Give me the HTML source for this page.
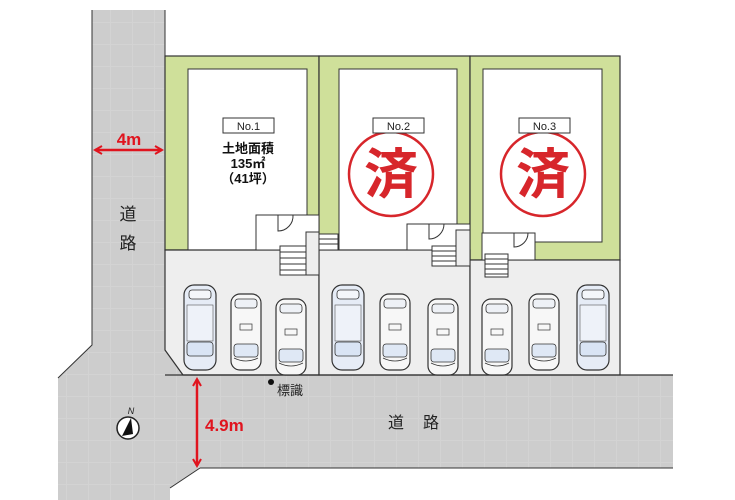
<!DOCTYPE html>
<html><head><meta charset="utf-8"><style>
html,body{margin:0;padding:0;background:#fff;}
svg{display:block;}
text{font-family:"Liberation Sans","Noto Sans CJK JP",sans-serif;}
</style></head><body>
<svg width="735" height="500" viewBox="0 0 735 500" xmlns="http://www.w3.org/2000/svg">
<defs>
<pattern id="g" width="22" height="22" patternUnits="userSpaceOnUse">
<rect width="22" height="22" fill="#cdcdcd"/>
<path d="M0 0.5H22M0.5 0V22" stroke="#d3d3d3" stroke-width="1"/>
</pattern>
<marker id="ah" viewBox="0 0 10 10" refX="8" refY="5" markerWidth="4" markerHeight="4" orient="auto-start-reverse">
<path d="M1 1L8 5L1 9" fill="none" stroke="#e0141e" stroke-width="2"/>
</marker>
<g id="car">
<rect x="0" y="0" width="30" height="76" rx="9" fill="#f7f7f7" stroke="#333" stroke-width="1.2"/>
<rect x="4" y="5" width="22" height="9" rx="3" fill="#eef1f6" stroke="#333" stroke-width="0.8"/>
<rect x="9" y="30" width="12" height="6" fill="none" stroke="#333" stroke-width="0.7"/>
<rect x="3" y="50" width="24" height="13" rx="3" fill="#dfe8f5" stroke="#333" stroke-width="0.8"/>
<path d="M3 64Q15 70 27 64" fill="none" stroke="#333" stroke-width="0.8"/>
</g>
<g id="carb">
<rect x="0" y="0" width="32" height="85" rx="10" fill="#e6ecf6" stroke="#333" stroke-width="1.2"/>
<rect x="5" y="5" width="22" height="9" rx="3" fill="#f4f6fa" stroke="#333" stroke-width="0.8"/>
<rect x="3" y="20" width="26" height="36" fill="#eef2f9" stroke="#555" stroke-width="0.6"/>
<rect x="3" y="57" width="26" height="14" rx="3" fill="#d9e4f4" stroke="#333" stroke-width="0.8"/>
</g>
</defs>

<polygon points="92,10 165,10 165,345 190,375 673,375 673,468 200,468 170,488 170,500 58,500 58,378 92,345" fill="url(#g)"/>
<polyline points="92,10 92,345 58,378" fill="none" stroke="#333" stroke-width="1"/>
<polyline points="165,10 165,345" fill="none" stroke="#333" stroke-width="1"/>
<polyline points="200,468 673,468" fill="none" stroke="#333" stroke-width="1"/>
<polyline points="200,468 170,488" fill="none" stroke="#333" stroke-width="1"/>

<rect x="165" y="56" width="154" height="194" fill="#cfe09a" stroke="#333" stroke-width="1.2"/>
<rect x="319" y="56" width="151" height="194" fill="#cfe09a" stroke="#333" stroke-width="1.2"/>
<rect x="470" y="56" width="150" height="204" fill="#cfe09a" stroke="#333" stroke-width="1.2"/>
<rect x="188" y="69" width="119" height="181" fill="#fff" stroke="#333" stroke-width="1"/>
<rect x="339" y="69" width="118" height="181" fill="#fff" stroke="#333" stroke-width="1"/>
<rect x="483" y="69" width="119" height="173" fill="#fff" stroke="#333" stroke-width="1"/>

<polygon points="165,250 319,250 319,375 183,375 165,350" fill="#eeeeee" stroke="#333" stroke-width="1.2"/>
<rect x="319" y="250" width="151" height="125" fill="#eeeeee" stroke="#333" stroke-width="1.2"/>
<rect x="470" y="260" width="150" height="115" fill="#eeeeee" stroke="#333" stroke-width="1.2"/>
<line x1="165" y1="375" x2="673" y2="375" stroke="#333" stroke-width="1.2"/>

<g fill="#fff" stroke="#333" stroke-width="1">
<rect x="256" y="215" width="63" height="35"/>
<path d="M278 215V231A15 15 0 0 0 293 215" fill="none"/>
<rect x="280" y="246" width="26" height="29"/>
<path d="M280 252H306M280 258H306M280 264H306M280 270H306"/>
<rect x="306" y="232" width="13" height="43" fill="#eee"/>
<rect x="319" y="234" width="19" height="16"/>
<path d="M319 239H338M319 244H338"/>
<rect x="407" y="224" width="63" height="26"/>
<path d="M429 224V239A15 15 0 0 0 444 224" fill="none"/>
<rect x="432" y="246" width="24" height="20"/>
<path d="M432 251H456M432 256H456M432 261H456"/>
<rect x="456" y="230" width="14" height="36" fill="#eee"/>
<rect x="482" y="233" width="53" height="27"/>
<path d="M514 233V247A14 14 0 0 0 528 233" fill="none"/>
<rect x="485" y="254" width="23" height="23"/>
<path d="M485 259H508M485 264H508M485 269H508M485 274H508"/>
</g>

<use href="#carb" x="184" y="285"/>
<use href="#car" x="231" y="294"/>
<use href="#car" x="276" y="299"/>
<use href="#carb" x="332" y="285"/>
<use href="#car" x="380" y="294"/>
<use href="#car" x="428" y="299"/>
<use href="#car" x="482" y="299"/>
<use href="#car" x="529" y="294"/>
<use href="#carb" x="577" y="285"/>

<rect x="223" y="118" width="51" height="15" fill="#fff" stroke="#333" stroke-width="1"/>
<text x="248.5" y="130" font-size="11" text-anchor="middle" fill="#222">No.1</text>
<text x="248" y="153" font-size="13" font-weight="bold" text-anchor="middle" fill="#111">土地面積</text>
<text x="248" y="168" font-size="13" font-weight="bold" text-anchor="middle" fill="#111">135㎡</text>
<text x="248" y="183" font-size="13" font-weight="bold" text-anchor="middle" fill="#111">（41坪）</text>

<circle cx="391" cy="174" r="42" fill="#fff" stroke="#d7262b" stroke-width="2.5"/>
<text x="391" y="193" font-size="54" font-weight="bold" text-anchor="middle" fill="#d7262b">済</text>
<circle cx="543" cy="174" r="42" fill="#fff" stroke="#d7262b" stroke-width="2.5"/>
<text x="543" y="193" font-size="54" font-weight="bold" text-anchor="middle" fill="#d7262b">済</text>

<rect x="373" y="118" width="51" height="15" fill="#fff" stroke="#333" stroke-width="1"/>
<text x="398.5" y="130" font-size="11" text-anchor="middle" fill="#222">No.2</text>
<rect x="519" y="118" width="51" height="15" fill="#fff" stroke="#333" stroke-width="1"/>
<text x="544.5" y="130" font-size="11" text-anchor="middle" fill="#222">No.3</text>

<line x1="95" y1="150" x2="162" y2="150" stroke="#e0141e" stroke-width="2.5" marker-start="url(#ah)" marker-end="url(#ah)"/>
<text x="129" y="145" font-size="17" font-weight="bold" text-anchor="middle" fill="#e0141e">4m</text>
<line x1="197" y1="379" x2="197" y2="466" stroke="#e0141e" stroke-width="2.5" marker-start="url(#ah)" marker-end="url(#ah)"/>
<text x="205" y="431" font-size="17" font-weight="bold" fill="#e0141e">4.9m</text>

<text x="128" y="220" font-size="17" text-anchor="middle" fill="#222">道</text>
<text x="128" y="249" font-size="17" text-anchor="middle" fill="#222">路</text>
<text x="396" y="428" font-size="16" text-anchor="middle" fill="#222">道</text>
<text x="431" y="428" font-size="16" text-anchor="middle" fill="#222">路</text>

<circle cx="271" cy="382" r="3" fill="#111"/>
<text x="277" y="395" font-size="13" fill="#222">標識</text>

<text x="131" y="414" font-size="9" font-style="italic" text-anchor="middle" fill="#222">N</text>
<circle cx="128" cy="428" r="11" fill="#fff" stroke="#222" stroke-width="1.5"/>
<polygon points="131,418 122,436 133,434" fill="#111"/>
</svg>
</body></html>
